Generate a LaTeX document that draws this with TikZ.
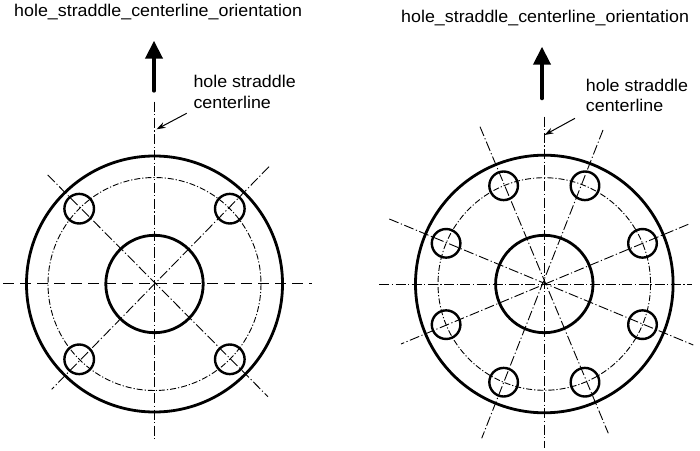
\documentclass[tikz,border=0pt]{standalone}
\usepackage{fontspec}
\setmainfont{Liberation Sans}
\usetikzlibrary{arrows.meta,calc}
\begin{document}
\begin{tikzpicture}[x=1bp,y=-1bp,
  thickc/.style={line width=2.8bp},
  holec/.style={line width=2.4bp},
  cline/.style={line width=0.9bp,dash pattern=on 10bp off 2.5bp on 1.2bp off 2.5bp},
  bline/.style={line width=0.9bp,dash pattern=on 6bp off 2bp on 1.2bp off 2bp},
  hline/.style={line width=1bp,dash pattern=on 11bp off 6bp},
  txt/.style={inner sep=0pt,anchor=base west,xscale=1.05,align=left,
    font=\fontsize{17bp}{20.5bp}\selectfont},
  bigarrow/.style={line width=4bp,line cap=round,-{Triangle[width=17bp,length=18bp]}},
  ptr/.style={line width=1bp,-{Stealth[width=6bp,length=9bp]}}]
\useasboundingbox (0,0) rectangle (700,451);
\fill[white] (0,0) rectangle (700,451);
% ---------- left figure ----------
\coordinate (LC) at (154.5,284);
\draw[hline] (3,284) -- (312,284);
\draw[cline] (154.5,101.7) -- (154.5,440);
\draw[cline] (47.7,175) -- (268,396.7);
\draw[cline] (269,166.7) -- (51.7,389.3);
\draw[bline] (LC) circle[radius=106.5];
\draw[thickc] (LC) circle[radius=128];
\draw[thickc] (LC) circle[radius=48.7];
\foreach \a in {45,135,225,315}
  \draw[holec] ($(LC)+(\a:106.5)$) circle[radius=14.8];
\node[txt] (lt) at (14,16.5) {hole\_straddle\_centerline\_orientation};
\coordinate (la1) at (154,90.7);
\coordinate (la2) at (154,40.7);
\draw[bigarrow] (la1) -- (la2);
\node[txt] (ll) at (193.3,108.3) {hole straddle\\centerline};
\coordinate (lp1) at (186.7,113.3);
\coordinate (lp2) at (156.5,129.3);
\draw[ptr] (lp1) -- (lp2);
% ---------- right figure ----------
\coordinate (RC) at (544.3,284);
\draw[cline] (379.3,284) -- (691.7,284);
\draw[cline] (544.3,116.7) -- (544.3,448.3);
\draw[cline] (603,130) -- (481.7,438.3);
\draw[cline] (480,126.7) -- (608.3,433.3);
\draw[cline] (688.3,224.3) -- (401,344);
\draw[cline] (389.3,219) -- (693.3,345);
\draw[bline] (RC) circle[radius=106.3];
\draw[thickc] (RC) circle[radius=128.8];
\draw[thickc] (RC) circle[radius=48.7];
\foreach \a in {22.5,67.5,112.5,157.5,202.5,247.5,292.5,337.5}
  \draw[holec] ($(RC)+(\a:106.3)$) circle[radius=14.3];
\node[txt] (rt) at (401,22.7) {hole\_straddle\_centerline\_orientation};
\coordinate (ra1) at (542,98.3);
\coordinate (ra2) at (542,46.7);
\draw[bigarrow] (ra1) -- (ra2);
\node[txt] (rl) at (585.7,111.7) {hole straddle\\centerline};
\coordinate (rp1) at (575,118.3);
\coordinate (rp2) at (544.5,135);
\draw[ptr] (rp1) -- (rp2);
\end{tikzpicture}
\end{document}
